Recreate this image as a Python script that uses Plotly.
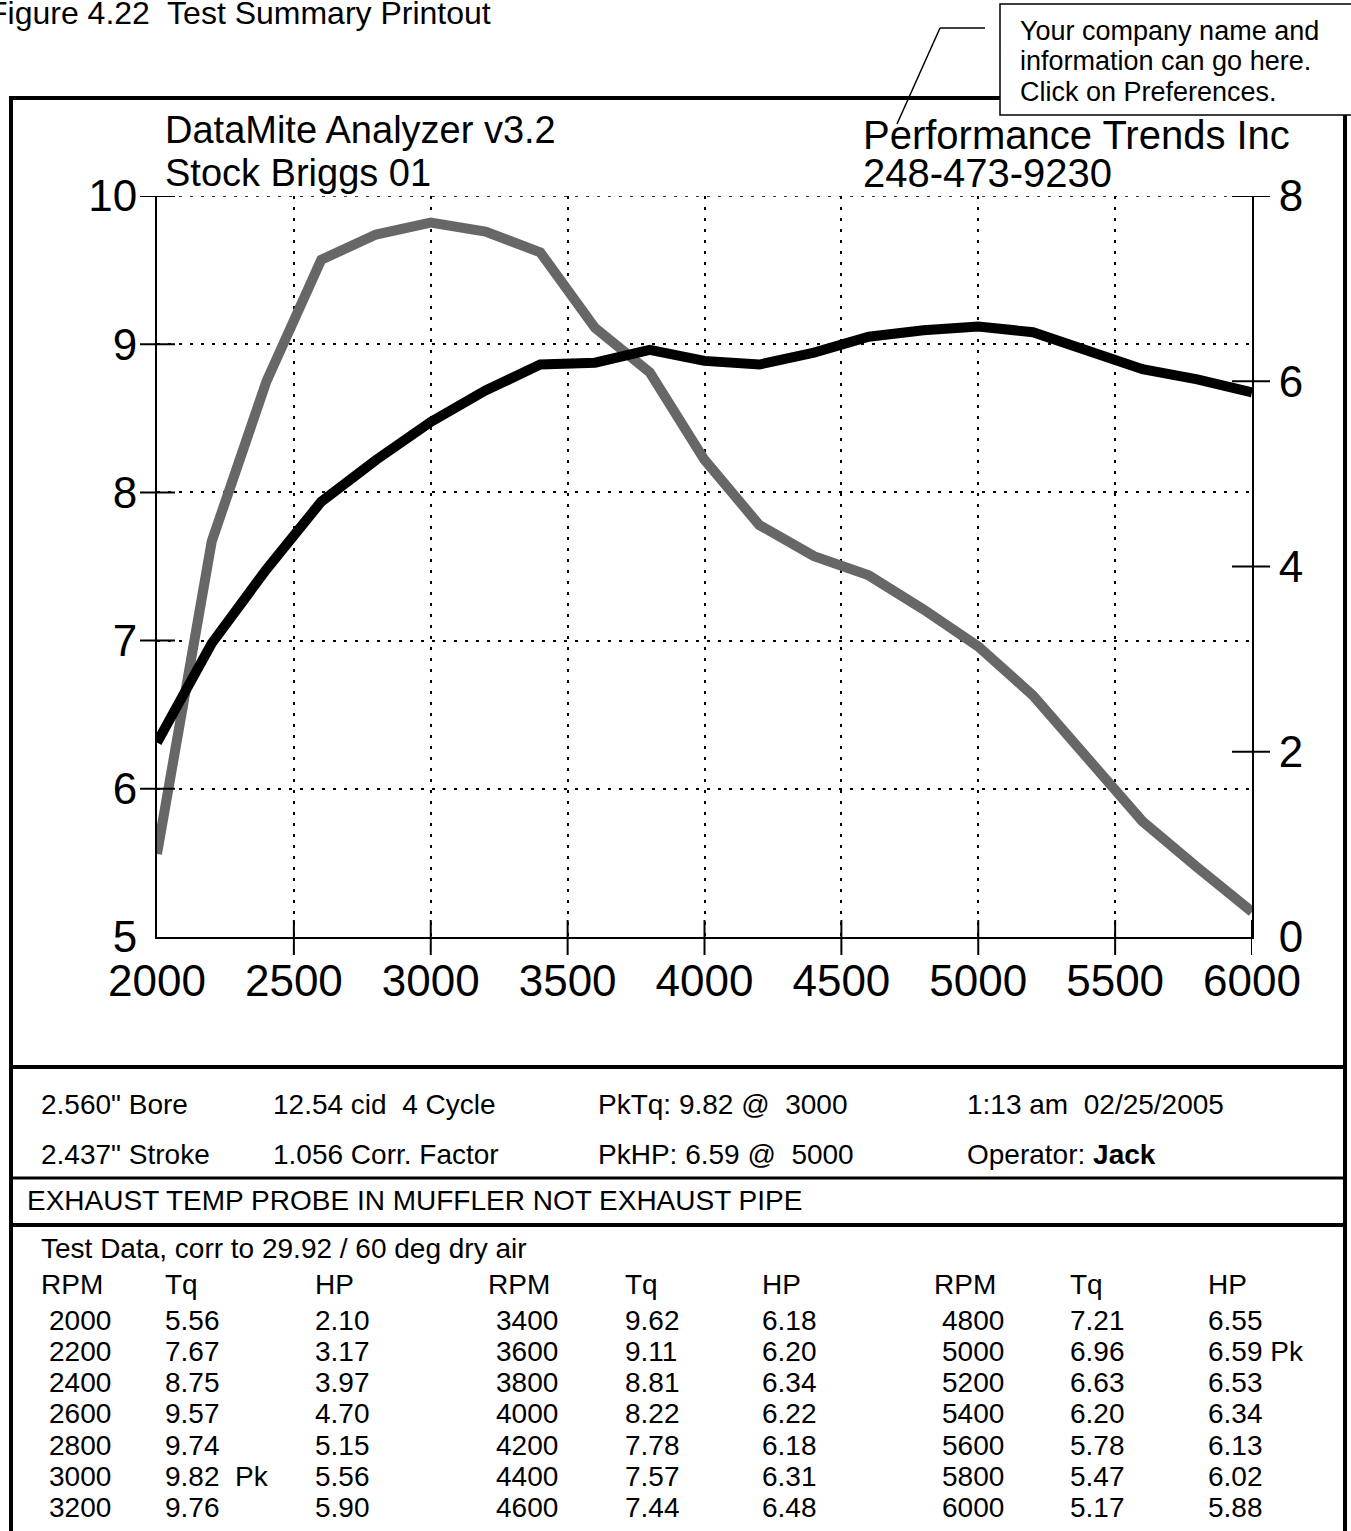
import plotly.graph_objects as go

# ---------------- data ----------------
rpm = [2000, 2200, 2400, 2600, 2800, 3000, 3200, 3400, 3600, 3800, 4000,
       4200, 4400, 4600, 4800, 5000, 5200, 5400, 5600, 5800, 6000]
torque = [5.56, 7.67, 8.75, 9.57, 9.74, 9.82, 9.76, 9.62, 9.11, 8.81, 8.22,
          7.78, 7.57, 7.44, 7.21, 6.96, 6.63, 6.20, 5.78, 5.47, 5.17]
hp = [2.10, 3.17, 3.97, 4.70, 5.15, 5.56, 5.90, 6.18, 6.20, 6.34, 6.22,
      6.18, 6.31, 6.48, 6.55, 6.59, 6.53, 6.34, 6.13, 6.02, 5.88]

x_ticks = [2000, 2500, 3000, 3500, 4000, 4500, 5000, 5500, 6000]
tq_ticks = [5, 6, 7, 8, 9, 10]
hp_ticks = [0, 2, 4, 6, 8]

figure_title = "Figure 4.22  Test Summary Printout"
header_left = ["DataMite Analyzer v3.2", "Stock Briggs 01"]
header_right = ["Performance Trends Inc", "248-473-9230"]
callout_lines = ["Your company name and", "information can go here.", "Click on Preferences."]
info_row1 = ['2.560" Bore', "12.54 cid  4 Cycle"]
info_row2 = ['2.437" Stroke', "1.056 Corr. Factor"]
timestamp = "1:13 am  02/25/2005"
operator = "Jack"
note = "EXHAUST TEMP PROBE IN MUFFLER NOT EXHAUST PIPE"
table_title = "Test Data, corr to 29.92 / 60 deg dry air"
table_headers = ["RPM", "Tq", "HP"]

# ---------------- geometry helpers (page pixels -> paper) ----------------
W, H = 1351, 1531
L, R, T, B = 157, 1252, 196, 937


def px(x):
    return (x - L) / (R - L)


def py(y):
    return (B - y) / (B - T)


FONT = "Arial, Liberation Sans, sans-serif"
TICK = dict(color="black", width=2)

fig = go.Figure()
fig.add_trace(go.Scatter(x=rpm, y=torque, mode="lines", yaxis="y",
                         line=dict(color="#676767", width=10), showlegend=False))
fig.add_trace(go.Scatter(x=rpm, y=hp, mode="lines", yaxis="y2",
                         line=dict(color="#000000", width=10), showlegend=False))

shapes = []
ann = []

# dotted grid line along the top value of the torque axis
shapes.append(dict(type="line", xref="x", yref="y", x0=x_ticks[0], x1=x_ticks[-1],
                   y0=tq_ticks[-1], y1=tq_ticks[-1], layer="below",
                   line=dict(color="black", width=1.5, dash="3px,8px")))

# crossing ticks (none at the origin corner)
for xv in x_ticks[1:]:
    shapes.append(dict(type="line", xref="x", yref="paper", ysizemode="pixel", yanchor=0,
                       x0=xv, x1=xv, y0=-18, y1=17, line=TICK))
for yv in tq_ticks[1:]:
    shapes.append(dict(type="line", xref="paper", yref="y", xsizemode="pixel", xanchor=0,
                       x0=-17, x1=18, y0=yv, y1=yv, line=TICK))
for yv in hp_ticks[1:]:
    shapes.append(dict(type="line", xref="paper", yref="y2", xsizemode="pixel", xanchor=1,
                       x0=-20, x1=18, y0=yv, y1=yv, line=TICK))

# outer frame and separators
shapes.append(dict(type="rect", xref="paper", yref="paper", x0=px(11), x1=px(1345),
                   y0=py(1545), y1=py(98), line=dict(color="black", width=4)))
for yy, w in [(1067, 4), (1178, 3), (1225, 4)]:
    shapes.append(dict(type="line", xref="paper", yref="paper", x0=px(11), x1=px(1345),
                       y0=py(yy), y1=py(yy), line=dict(color="black", width=w)))

# callout box + leader
shapes.append(dict(type="rect", xref="paper", yref="paper", x0=px(1000), x1=px(1365),
                   y0=py(115), y1=py(4), fillcolor="white", line=dict(color="black", width=1.5)))
shapes.append(dict(type="line", xref="paper", yref="paper", x0=px(985), x1=px(940),
                   y0=py(28), y1=py(28), line=dict(color="black", width=1.5)))
shapes.append(dict(type="line", xref="paper", yref="paper", x0=px(940), x1=px(897),
                   y0=py(28), y1=py(124), line=dict(color="black", width=1.5)))


def text(s, x, y, size, anchor="left"):
    ann.append(dict(text=s, x=px(x), y=py(y), xref="paper", yref="paper", showarrow=False,
                    xanchor=anchor, yanchor="middle", font=dict(family=FONT, size=size, color="black")))


text(figure_title, -14, 13, 32)
text(header_left[0], 163, 130, 38)
text(header_left[1], 163, 173, 38)
text(header_right[0], 861, 135, 40)
text(header_right[1], 861, 173, 40)
for i, s in enumerate(callout_lines):
    text(s, 1018, 31 + i * 30.5, 27)

SMALL = 28
ipk_t = max(range(len(torque)), key=lambda i: torque[i])
ipk_h = max(range(len(hp)), key=lambda i: hp[i])
row1 = info_row1 + [f"PkTq: {torque[ipk_t]:.2f} @  {rpm[ipk_t]}", timestamp]
row2 = info_row2 + [f"PkHP: {hp[ipk_h]:.2f} @  {rpm[ipk_h]}", f"Operator: <b>{operator}</b>"]
info_x = [39, 271, 596, 965]
for s, xx in zip(row1, info_x):
    text(s, xx, 1104, SMALL)
for s, xx in zip(row2, info_x):
    text(s, xx, 1154, SMALL)
text(note, 25, 1200, SMALL)
text(table_title, 39, 1248, SMALL)

col_x = [(39, 163, 313), (486, 623, 760), (932, 1068, 1206)]
rows_per_col = 7
for c, (xr, xt, xh) in enumerate(col_x):
    text(table_headers[0], xr, 1284, SMALL)
    text(table_headers[1], xt, 1284, SMALL)
    text(table_headers[2], xh, 1284, SMALL)
    for r in range(rows_per_col):
        i = c * rows_per_col + r
        yy = 1320 + r * 31.3
        text(f"{rpm[i]}", xr + 8, yy, SMALL)
        text(f"{torque[i]:.2f}" + ("  Pk" if i == ipk_t else ""), xt, yy, SMALL)
        text(f"{hp[i]:.2f}" + (" Pk" if i == ipk_h else ""), xh, yy, SMALL)

axis_font = dict(family=FONT, size=44, color="black")
fig.update_layout(
    width=W, height=H,
    margin=dict(l=L, r=W - R, t=T, b=H - B, pad=0),
    paper_bgcolor="white", plot_bgcolor="white",
    showlegend=False,
    xaxis=dict(range=[x_ticks[0], x_ticks[-1]], tickvals=x_ticks, ticks="",
               showline=True, linecolor="black", linewidth=2,
               showgrid=True, gridcolor="black", gridwidth=1.5, griddash="3px,8px",
               zeroline=False, tickfont=axis_font, ticklabelstandoff=4, fixedrange=True),
    yaxis=dict(range=[tq_ticks[0], tq_ticks[-1]], tickvals=tq_ticks, ticks="",
               showline=True, linecolor="black", linewidth=2,
               showgrid=True, gridcolor="black", gridwidth=1.5, griddash="3px,8px",
               zeroline=False, tickfont=axis_font, ticklabelstandoff=9, fixedrange=True),
    yaxis2=dict(range=[hp_ticks[0], hp_ticks[-1]], tickvals=hp_ticks, ticks="",
                overlaying="y", side="right",
                showline=True, linecolor="black", linewidth=2,
                showgrid=False, zeroline=False, tickfont=axis_font,
                ticklabelstandoff=16, fixedrange=True),
    shapes=shapes,
    annotations=ann,
)

fig.write_html("out.html", config={"displayModeBar": False},
               post_script="document.body.style.margin='0px';document.body.style.overflow='hidden';")
